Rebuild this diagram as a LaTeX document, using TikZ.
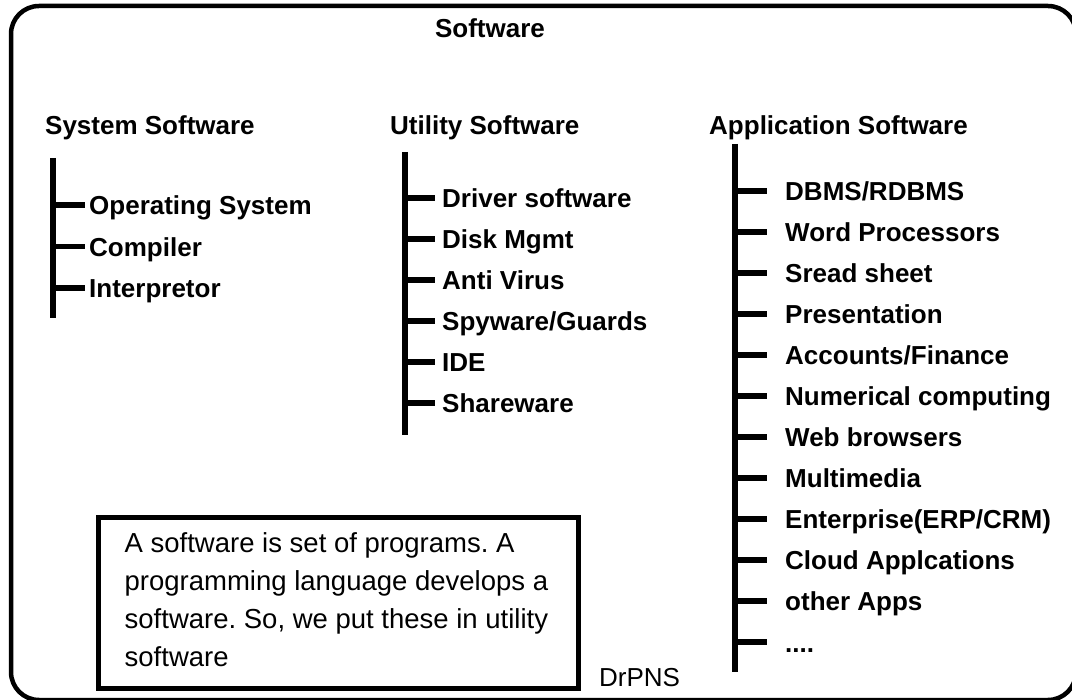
\documentclass[tikz,border=0pt]{standalone}
\usepackage{fontspec}
\setmainfont{Liberation Sans}
\frenchspacing
\begin{document}
\begin{tikzpicture}[x=1pt,y=-1pt,
  frame/.style={line width=4.5pt, rounded corners=28pt},
  head/.style={font=\fontsize{26}{30}\selectfont\bfseries, anchor=base west, inner sep=0pt},
  item/.style={font=\fontsize{26}{30}\selectfont\bfseries, anchor=west, inner sep=0pt, text height=20pt, text depth=0pt},
  spine/.style={line width=5.5pt},
  tick/.style={line width=5.5pt},
  notebox/.style={draw, line width=5pt, minimum width=480pt, minimum height=170pt, inner sep=0pt},
  notetext/.style={align=left, inner sep=0pt, anchor=north west, font=\fontsize{27.5}{38}\selectfont},
  plain/.style={anchor=base west, inner sep=0pt, font=\fontsize{26}{30}\selectfont},
]
\useasboundingbox (0,0) rectangle (1072,700);
\clip (0,0) rectangle (1072,700);

% outer rounded frame
\draw[frame] (11,6) rectangle (1076,700);

% title
\node[head, anchor=base] (title) at (490,38) {Software};

% ---- System Software ----
\node[head] (sys) at (45,135) {System Software};
\coordinate (sysT) at (53,158);
\coordinate (sysB) at (53,318);
\draw[spine] (sysT) -- (sysB);
\foreach \name/\txt [count=\i from 0] in {os/Operating System, comp/Compiler, interp/Interpretor}{
  \node[item] (\name) at (89,205+41.5*\i) {\txt};
  \draw[tick] (\name.west -| sysT) -- ([xshift=-4pt]\name.west);
}

% ---- Utility Software ----
\node[head] (util) at (390,135) {Utility Software};
\coordinate (utilT) at (405,152);
\coordinate (utilB) at (405,435);
\draw[spine] (utilT) -- (utilB);
\foreach \name/\txt [count=\i from 0] in {drv/Driver software, disk/Disk Mgmt, av/Anti Virus, spy/Spyware\slash Guards, ide/IDE, share/Shareware}{
  \node[item] (\name) at (442,198+41*\i) {\txt};
  \draw[tick] (\name.west -| utilT) -- ([xshift=-7pt]\name.west);
}

% ---- Application Software ----
\node[head] (app) at (709,135) {Application Software};
\coordinate (appT) at (735,144);
\coordinate (appB) at (735,672);
\draw[spine] (appT) -- (appB);
\foreach \name/\txt [count=\i from 0] in {db/DBMS\slash RDBMS, wp/Word Processors, ss/Sread sheet, pres/Presentation, acc/Accounts\slash Finance, num/Numerical computing, web/Web browsers, mm/Multimedia, ent/Enterprise(ERP\slash CRM), cloud/Cloud Applcations, oth/other Apps}{
  \node[item] (\name) at (785,191+41*\i) {\txt};
  \draw[tick] (\name.west -| appT) -- ([xshift=-18pt]\name.west);
}
\node[item] (more) at (785,642) {....};
\draw[tick] (more.west -| appT) -- ([xshift=-18pt]more.west);

% ---- note box and signature ----
\node[notebox] (note) at (338,603) {};
\node[notetext] (notetxt) at ([xshift=29pt,yshift=-17pt]note.north west) {A software is set of programs. A\\programming language develops a\\software. So, we put these in utility\\software};
\node[plain] (sig) at (599,686) {DrPNS};
\end{tikzpicture}
\end{document}
